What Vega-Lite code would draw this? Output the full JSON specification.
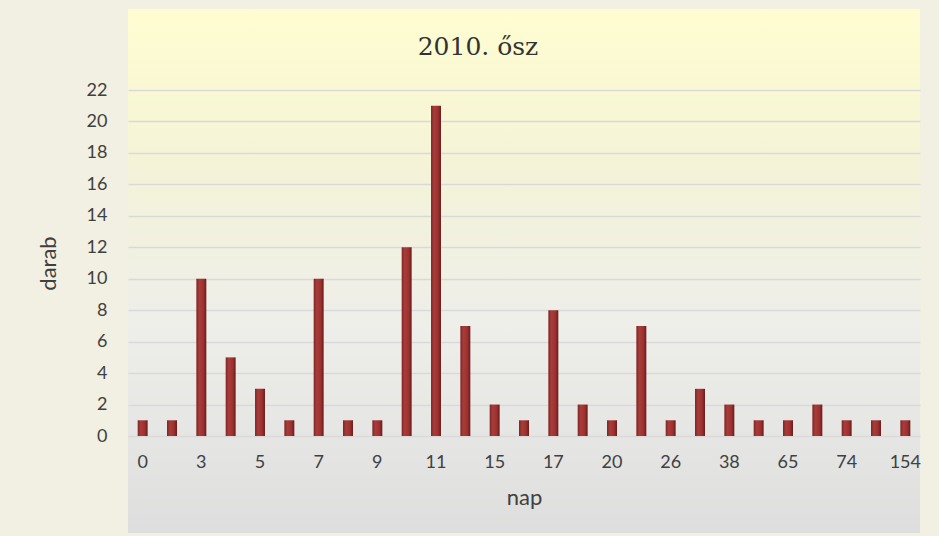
{
  "$schema": "https://vega.github.io/schema/vega-lite/v6.json",
  "width": 792,
  "height": 524,
  "autosize": {"type": "none"},
  "padding": {"left": 128, "top": 9, "right": 19, "bottom": 3},
  "background": "#F1F0E2",
  "title": {
    "text": "2010. ősz",
    "font": "DejaVu Serif",
    "fontSize": 25,
    "fontWeight": "normal",
    "color": "#333333",
    "anchor": "middle",
    "dx": -46,
    "offset": -51
  },
  "config": {
    "view": {
      "stroke": null,
      "fill": {
        "gradient": "linear",
        "x1": 0, "y1": 0, "x2": 0, "y2": 1,
        "stops": [
          {"offset": 0, "color": "#FFFDD0"},
          {"offset": 0.3, "color": "#F4F3D8"},
          {"offset": 0.6, "color": "#EEEEEA"},
          {"offset": 1, "color": "#DEDEDE"}
        ]
      }
    },
    "axis": {
      "labelFont": "Lato",
      "titleFont": "Lato",
      "labelColor": "#404040",
      "titleColor": "#404040",
      "labelFontSize": 18,
      "titleFontSize": 22,
      "titleFontWeight": "normal",
      "domain": false,
      "ticks": false
    }
  },
  "data": {
    "values": [
      {"nap": 0, "darab": 1},
      {"nap": 2, "darab": 1},
      {"nap": 3, "darab": 10},
      {"nap": 4, "darab": 5},
      {"nap": 5, "darab": 3},
      {"nap": 6, "darab": 1},
      {"nap": 7, "darab": 10},
      {"nap": 8, "darab": 1},
      {"nap": 9, "darab": 1},
      {"nap": 10, "darab": 12},
      {"nap": 11, "darab": 21},
      {"nap": 14, "darab": 7},
      {"nap": 15, "darab": 2},
      {"nap": 16, "darab": 1},
      {"nap": 17, "darab": 8},
      {"nap": 19, "darab": 2},
      {"nap": 20, "darab": 1},
      {"nap": 21, "darab": 7},
      {"nap": 26, "darab": 1},
      {"nap": 30, "darab": 3},
      {"nap": 38, "darab": 2},
      {"nap": 45, "darab": 1},
      {"nap": 65, "darab": 1},
      {"nap": 70, "darab": 2},
      {"nap": 74, "darab": 1},
      {"nap": 90, "darab": 1},
      {"nap": 154, "darab": 1}
    ]
  },
  "mark": {
    "type": "bar",
    "color": {
      "gradient": "linear",
      "x1": 0, "y1": 0, "x2": 1, "y2": 0,
      "stops": [
        {"offset": 0, "color": "#7E2624"},
        {"offset": 0.3, "color": "#A83C3A"},
        {"offset": 0.7, "color": "#9C3230"},
        {"offset": 1, "color": "#6A1B19"}
      ]
    }
  },
  "encoding": {
    "x": {
      "field": "nap",
      "type": "ordinal",
      "sort": "ascending",
      "scale": {"paddingInner": 0.66, "paddingOuter": 0.33},
      "axis": {
        "values": [0, 3, 5, 7, 9, 11, 15, 17, 20, 26, 38, 65, 74, 154],
        "labelAngle": 0,
        "offset": -97,
        "labelPadding": 17,
        "title": "nap",
        "titlePadding": 16,
        "grid": false
      }
    },
    "y": {
      "field": "darab",
      "type": "quantitative",
      "scale": {"domain": [0, 22], "range": [427, 81], "nice": false},
      "axis": {
        "values": [0, 2, 4, 6, 8, 10, 12, 14, 16, 18, 20, 22],
        "grid": true,
        "gridColor": "#D9D9D9",
        "gridWidth": 1.5,
        "labelPadding": 21,
        "title": "darab",
        "titlePadding": 26
      }
    }
  }
}
